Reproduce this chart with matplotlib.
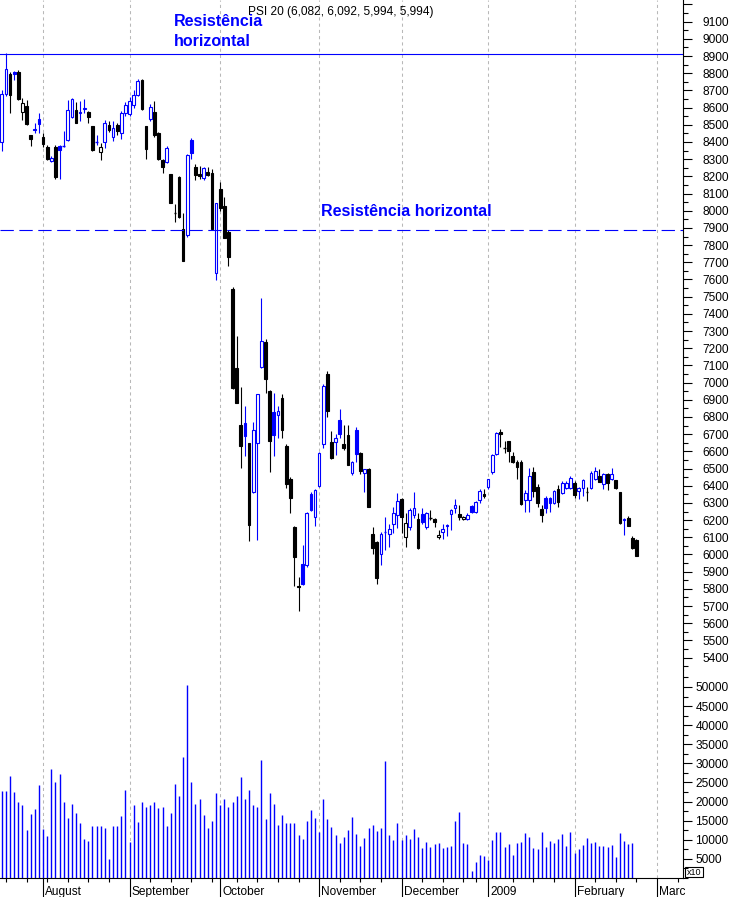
import numpy as np
import matplotlib.pyplot as plt
from matplotlib.patches import Rectangle
from matplotlib.ticker import MultipleLocator

plt.rcParams['font.family'] = ['Liberation Sans', 'DejaVu Sans']

#%% data: PSI 20 daily candles (Jul 2008 - Feb 2009)
opens = [8400, 8680, 8796, 8805, 8810, 8576, 8609, 8440, 8470, 8536,
         8428, 8373, 8292, 8370, 8379, 8375, 8413, 8547, 8587, 8570,
         8590, 8575, 8493, 8395, 8344, 8402, 8497, 8428, 8497, 8451,
         8571, 8560, 8618, 8672, 8760, 8493, 8536, 8575, 8451, 8295,
         8286, 8214, 7990, 8198, 7896, 7857, 8412, 8253, 8215, 8190,
         8227, 8222, 7640, 8125, 8026, 7876, 7543, 7083, 6752, 6764,
         6647, 6366, 6647, 7092, 7238, 6953, 6830, 6810, 6910, 6630,
         6437, 6162, 5815, 5945, 5939, 6352, 6216, 6397, 6643, 7050,
         6652, 6652, 6783, 6640, 6696, 6476, 6725, 6589, 6473, 6496,
         6120, 6075, 6001, 6125, 6120, 6176, 6230, 6322, 6104, 6158,
         6228, 6205, 6234, 6158, 6215, 6205, 6100, 6133, 6172, 6234,
         6269, 6236, 6205, 6205, 6284, 6246, 6317, 6350, 6391, 6478,
         6585, 6715, 6625, 6660, 6573, 6540, 6540, 6317, 6317, 6478,
         6395, 6267, 6326, 6326, 6301, 6383, 6356, 6388, 6385, 6414,
         6367, 6385, 6370, 6385, 6441, 6458, 6410, 6467, 6440, 6433,
         6362, 6200, 6214, 6098, 6082]
highs = [8700, 8915, 8810, 8815, 8820, 8654, 8645, 8442, 8512, 8567,
         8454, 8380, 8320, 8380, 8385, 8465, 8645, 8655, 8630, 8640,
         8650, 8578, 8495, 8440, 8395, 8528, 8520, 8520, 8510, 8580,
         8635, 8660, 8700, 8765, 8765, 8495, 8620, 8636, 8460, 8300,
         8375, 8215, 8040, 8200, 7985, 8330, 8423, 8270, 8260, 8255,
         8255, 8245, 8045, 8165, 8080, 7890, 7555, 7270, 6973, 6864,
         6650, 6773, 6935, 7490, 7255, 6955, 6938, 6862, 6935, 6640,
         6450, 6165, 5871, 6055, 6245, 6365, 6380, 6595, 6990, 7070,
         6720, 6700, 6845, 6754, 6755, 6545, 6744, 6595, 6500, 6505,
         6162, 6080, 6133, 6217, 6175, 6279, 6356, 6330, 6240, 6270,
         6362, 6240, 6273, 6250, 6260, 6210, 6145, 6175, 6180, 6262,
         6322, 6290, 6225, 6240, 6290, 6310, 6380, 6380, 6440, 6585,
         6715, 6728, 6660, 6662, 6595, 6550, 6550, 6375, 6502, 6511,
         6410, 6290, 6340, 6335, 6375, 6404, 6425, 6430, 6455, 6425,
         6395, 6440, 6392, 6485, 6507, 6495, 6475, 6475, 6505, 6435,
         6365, 6215, 6225, 6110, 6092]
lows = [8350, 8670, 8570, 8760, 8645, 8528, 8500, 8377, 8450, 8452,
        8373, 8295, 8285, 8185, 8185, 8370, 8405, 8540, 8510, 8520,
        8570, 8509, 8350, 8380, 8295, 8365, 8460, 8405, 8440, 8420,
        8550, 8550, 8600, 8665, 8585, 8300, 8520, 8430, 8295, 8218,
        8280, 8045, 7935, 7960, 7705, 7850, 8300, 8180, 8185, 8180,
        8200, 7890, 7597, 8000, 7840, 7680, 6960, 6880, 6506, 6575,
        6080, 6360, 6084, 7085, 6941, 6482, 6575, 6680, 6680, 6385,
        6240, 5814, 5673, 5820, 5930, 6255, 6168, 6390, 6620, 6798,
        6555, 6580, 6676, 6608, 6518, 6463, 6540, 6470, 6361, 6275,
        6001, 5827, 5939, 6026, 6046, 6124, 6153, 6124, 6046, 6140,
        6210, 6030, 6180, 6150, 6200, 6158, 6090, 6090, 6110, 6140,
        6240, 6200, 6200, 6200, 6240, 6240, 6300, 6330, 6380, 6470,
        6580, 6628, 6590, 6541, 6530, 6437, 6290, 6250, 6250, 6336,
        6279, 6191, 6240, 6245, 6295, 6279, 6350, 6380, 6380, 6330,
        6320, 6340, 6310, 6380, 6435, 6420, 6380, 6375, 6435, 6380,
        6180, 6113, 6165, 6030, 5994]
closes = [8680, 8825, 8674, 8795, 8650, 8625, 8505, 8416, 8478, 8505,
          8389, 8300, 8305, 8198, 8354, 8378, 8587, 8649, 8512, 8577,
          8596, 8547, 8354, 8400, 8373, 8509, 8470, 8483, 8466, 8567,
          8614, 8637, 8672, 8757, 8594, 8360, 8602, 8441, 8300, 8253,
          8363, 8047, 7985, 7965, 7710, 8327, 8335, 8205, 8200, 8247,
          8205, 7896, 8043, 8014, 7844, 7729, 6967, 6883, 6634, 6692,
          6172, 6724, 6932, 7242, 7023, 6662, 6697, 6835, 6723, 6409,
          6330, 5984, 5808, 5827, 6240, 6259, 6375, 6589, 6983, 6837,
          6560, 6675, 6702, 6620, 6521, 6540, 6585, 6488, 6496, 6279,
          6040, 5866, 6118, 6130, 6150, 6240, 6310, 6219, 6182, 6259,
          6270, 6035, 6188, 6240, 6210, 6188, 6113, 6147, 6163, 6259,
          6288, 6220, 6218, 6230, 6246, 6308, 6367, 6340, 6437, 6579,
          6705, 6700, 6620, 6605, 6540, 6507, 6294, 6356, 6459, 6371,
          6302, 6228, 6273, 6301, 6367, 6305, 6414, 6418, 6447, 6346,
          6385, 6433, 6366, 6473, 6488, 6424, 6467, 6418, 6467, 6385,
          6182, 6206, 6168, 6036, 5994]
volume = [22700, 22900, 26800, 22400, 20000, 19200, 12600, 16800, 18100, 24400,
          12900, 11100, 28600, 25200, 27100, 20000, 15800, 19400, 17100, 14400,
          10200, 9700, 13500, 13700, 13500, 13200, 5000, 13500, 13700, 16300,
          23100, 9500, 19000, 14700, 20000, 18700, 19000, 20000, 18200, 18700,
          13500, 16900, 24700, 21500, 31600, 50400, 25000, 19300, 20800, 16400,
          13000, 15000, 22300, 19200, 20800, 18700, 19800, 21400, 26400, 20800,
          23100, 19200, 18500, 31000, 15500, 22300, 19400, 14000, 16500, 14400,
          14300, 14400, 11300, 10200, 15000, 17900, 15800, 12100, 20800, 15500,
          13400, 11300, 9200, 10800, 12600, 16000, 11600, 8400, 10500, 13100,
          13900, 12300, 13200, 30600, 11300, 10000, 14400, 10000, 11300, 10200,
          12900, 10800, 7900, 9500, 8100, 8900, 9200, 7900, 8100, 8400,
          14800, 17300, 9200, 8900, 1800, 4200, 6000, 5800, 4800, 10000,
          12100, 12100, 8100, 9000, 5900, 9200, 9500, 11800, 10800, 7900,
          7600, 12100, 8100, 9700, 9200, 10200, 11600, 8400, 12100, 6600,
          7600, 8700, 10500, 9200, 9500, 8400, 8400, 8100, 8700, 5500,
          11800, 9700, 8900, 9200]

month_pos = [10, 31, 53, 77, 97, 118, 139, 159]
month_labels = ['August', 'September', 'October', 'November', 'December',
                '2009', 'February', 'Marc']
week_pos = [1, 6, 11, 16, 21, 26, 36, 41, 46, 51, 57, 62, 67, 72, 82, 87,
            92, 102, 107, 112, 115, 124, 129, 134, 144, 149, 154, 164]

resist_top = 8912
resist_mid = 7889
title = 'PSI 20 (6,082, 6,092, 5,994, 5,994)'

BLUE = '#0000ff'
BLACK = '#000000'
GRID = '#b8b8b8'

#%% figure
W, H = 733, 897
fig = plt.figure(figsize=(W / 100, H / 100), dpi=100)
ax = fig.add_axes([0, 1 - 670 / H, 683 / W, 670 / H])
axv = fig.add_axes([0, 1 - 878 / H, 683 / W, (878 - 670) / H], sharex=ax)

#%% candles
bw = 0.66
for i in range(len(closes)):
    o, h, l, c = opens[i], highs[i], lows[i], closes[i]
    prev = closes[i - 1] if i > 0 else o
    col = BLUE if c >= prev else BLACK
    ax.vlines(i, l, h, color=col, lw=0.8, zorder=2)
    if abs(c - o) < 6:
        ax.hlines(c, i - bw / 2, i + bw / 2, color=col, lw=1.0, zorder=3)
    else:
        face = col if c < o else 'white'
        ax.add_patch(Rectangle((i - bw / 2, min(o, c)), bw, abs(c - o),
                               facecolor=face, edgecolor=col, lw=0.8, zorder=3))

ax.axhline(resist_top, color=BLUE, lw=0.8, zorder=4)
ax.axhline(resist_mid, color=BLUE, lw=0.8, ls=(0, (12, 5)), zorder=4)

#%% volume
axv.vlines(range(len(volume)), 0, volume, color=BLUE, lw=1.0)

#%% grid
for a in (ax, axv):
    for p in month_pos:
        a.axvline(p, color=GRID, lw=0.75, ls=(0, (3, 3)), zorder=1)
    for s in ('top', 'left'):
        a.spines[s].set_visible(False)
    a.spines['right'].set_linewidth(0.8)
    a.yaxis.tick_right()
ax.spines['bottom'].set_visible(False)
axv.spines['bottom'].set_linewidth(0.8)

ax.set_xlim(-0.44, 165.3)
ax.set_ylim(5328, 9226)
axv.set_ylim(0, 54450)

pticks = list(range(5400, 9201, 100))
ax.set_yticks(pticks)
ax.set_yticklabels([str(t) if t <= 9100 else '' for t in pticks])
ax.yaxis.set_minor_locator(MultipleLocator(50))
ax.tick_params(axis='y', which='major', length=6.5, width=0.8, pad=7.5, labelsize=8.6)
ax.tick_params(axis='y', which='minor', length=3.5, width=0.8)
ax.tick_params(axis='x', which='both', bottom=False, labelbottom=False)

axv.set_yticks(range(5000, 50001, 5000))
axv.yaxis.set_minor_locator(MultipleLocator(2500))
axv.tick_params(axis='y', which='major', length=6.5, width=0.8, pad=2.5, labelsize=8.6)
axv.tick_params(axis='y', which='minor', length=3.5, width=0.8)

axv.set_xticks(month_pos)
axv.set_xticks(week_pos, minor=True)
axv.tick_params(axis='x', which='major', length=13.7, width=0.8, labelbottom=False)
axv.tick_params(axis='x', which='minor', length=3, width=0.8)
for p, lab in zip(month_pos, month_labels):
    axv.annotate(lab, xy=(p, 0), xycoords=('data', 'axes fraction'),
                 xytext=(1.5, -12.3), textcoords='offset points',
                 ha='left', va='baseline', fontsize=8.6, annotation_clip=False)

#%% texts
fig.text(248 / W, 1 - 15 / H, title, fontsize=8.6, va='baseline')
fig.text(174 / W, 1 - 26 / H, 'Resistência', color=BLUE, fontsize=11.5,
         fontweight='bold', va='baseline')
fig.text(174 / W, 1 - 46 / H, 'horizontal', color=BLUE, fontsize=11.5,
         fontweight='bold', va='baseline')
fig.text(321 / W, 1 - 216 / H, 'Resistência horizontal', color=BLUE,
         fontsize=11.5, fontweight='bold', va='baseline')

fig.patches.append(Rectangle((685 / W, 1 - 877 / H), 18 / W, 10.5 / H,
                             transform=fig.transFigure, fill=False,
                             edgecolor=BLACK, lw=0.8))
fig.text(694 / W, 1 - 872 / H, 'x10', fontsize=6.5, ha='center', va='center')

fig.savefig('out.png', dpi=100, facecolor='white')
